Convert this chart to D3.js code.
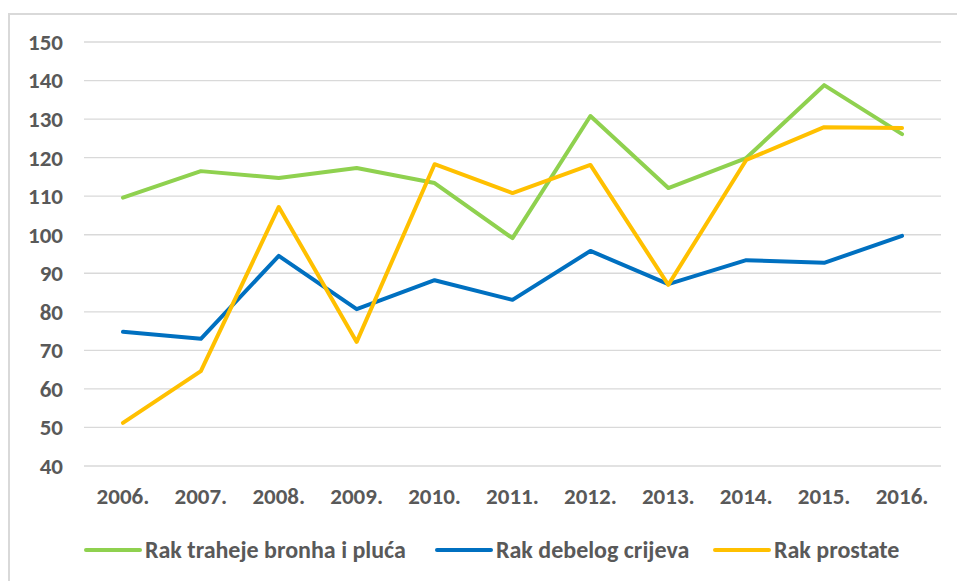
<!DOCTYPE html>
<html>
<head>
<meta charset="utf-8">
<script src="https://cdn.jsdelivr.net/npm/d3@7"></script>
<style>
  body { margin: 0; background: #fff; }
  text { font-family: Calibri, Lato, "Open Sans", sans-serif; font-weight: bold; fill: #595959; }
</style>
</head>
<body>
<script>
// Incidencija raka po godinama

var years = ['2006.','2007.','2008.','2009.','2010.','2011.','2012.','2013.','2014.','2015.','2016.'];
var yTicks = [40,50,60,70,80,90,100,110,120,130,140,150];
var seriesNames = ['Rak traheje bronha i pluća','Rak debelog crijeva','Rak prostate'];
var seriesColors = ['#8fd14f','#0070c0','#ffc000'];
var pluca = [109.6,116.5,114.7,117.3,113.4,99.1,130.8,112.1,119.9,138.8,126.1];
var debelo = [74.8,73.0,94.5,80.7,88.2,83.1,95.8,87.2,93.4,92.7,99.7];
var prostata = [51.2,64.6,107.2,72.2,118.3,110.8,118.1,87.0,119.4,127.9,127.7];

var width = 957, height = 581,
    margin = {left:84, right:16, top:42, bottom:115},
    innerWidth = width-margin.left-margin.right,
    innerHeight = height-margin.top-margin.bottom,
    fontSize = '23px';

var svg = d3.select('body').append('svg')
  .attr('width',width)
  .attr('height',height);

// chart frame: only left and top edges show, the rest is cropped away
svg.append('path')
  .attr('d','M9,'+height+'V14H'+width)
  .attr('fill','none')
  .attr('stroke','#d9d9d9')
  .attr('stroke-width',2);

var g = svg.append('g')
  .attr('transform','translate('+margin.left+','+margin.top+')');

var xScale = d3.scaleBand().domain(years).range([0,innerWidth]);
var yScale = d3.scaleLinear().domain([40,150]).range([innerHeight,0]);

// grid lines
g.selectAll('.grid').data(yTicks).enter().append('line')
  .attr('x1',0).attr('x2',innerWidth)
  .attr('y1',function(d){return yScale(d);})
  .attr('y2',function(d){return yScale(d);})
  .attr('stroke','#d9d9d9')
  .attr('stroke-width',1.3);

var yAxis = g.append('g')
  .call(d3.axisLeft(yScale).tickValues(yTicks).tickSize(0).tickPadding(21));
yAxis.select('.domain').remove();
yAxis.selectAll('text').style('font-size',fontSize).attr('fill','#595959');

var xAxis = g.append('g')
  .attr('transform','translate(0,'+innerHeight+')')
  .call(d3.axisBottom(xScale).tickSize(0).tickPadding(22));
xAxis.select('.domain').remove();
xAxis.selectAll('text').style('font-size',fontSize).attr('fill','#595959');

var line = d3.line()
  .x(function(d,i){return xScale(years[i])+xScale.bandwidth()/2;})
  .y(function(d){return yScale(d);});

var allSeries = [pluca,debelo,prostata];
g.selectAll('.series').data(allSeries).enter().append('path')
  .attr('d',line)
  .attr('fill','none')
  .attr('stroke',function(d,i){return seriesColors[i];})
  .attr('stroke-width',4)
  .attr('stroke-linejoin','round')
  .attr('stroke-linecap','round');

// legend
var legendX = [86,437,715];
var legend = svg.append('g').attr('transform','translate(0,550)');
var items = legend.selectAll('g').data(seriesNames).enter().append('g')
  .attr('transform',function(d,i){return 'translate('+legendX[i]+',0)';});
items.append('line')
  .attr('x1',0).attr('x2',54)
  .attr('stroke',function(d,i){return seriesColors[i];})
  .attr('stroke-width',4)
  .attr('stroke-linecap','round');
items.append('text')
  .attr('x',59).attr('dy','0.35em')
  .style('font-size','24px')
  .text(function(d){return d;});
</script>
</body>
</html>
